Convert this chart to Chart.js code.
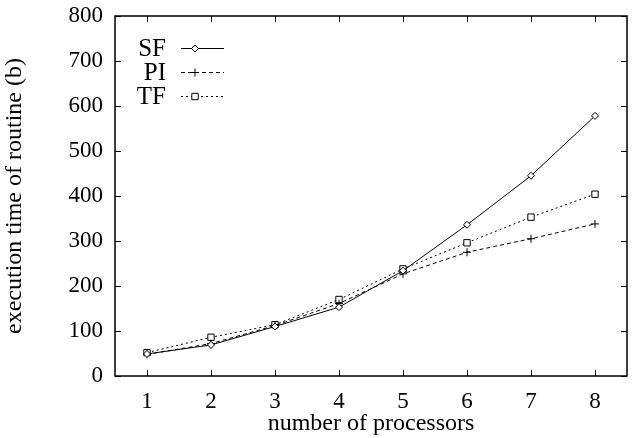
<!DOCTYPE html>
<html>
<head>
<meta charset="utf-8">
<script src="https://cdn.jsdelivr.net/npm/chart.js@4/dist/chart.umd.min.js"></script>
<style>
  html, body { margin: 0; padding: 0; background: #fff; }
  #wrap { width: 639px; height: 438px; }
</style>
</head>
<body>
<div id="wrap"><canvas id="chart" width="639" height="438"></canvas></div>
<script>
// data
const processors = [1, 2, 3, 4, 5, 6, 7, 8];
const sfTimes = [49, 69, 110, 153, 234, 336, 445, 578];
const piTimes = [48, 72, 112, 161, 227, 275, 305, 338];
const tfTimes = [52, 86, 114, 170, 238, 296, 353, 404];
const yTicks = [0, 100, 200, 300, 400, 500, 600, 700, 800];

const serif = "'Liberation Serif', 'DejaVu Serif', serif";

function toPoints(values) {
    return processors.map((p, i) => ({ x: p, y: values[i] }));
}

// gnuplot-like frame with inward, mirrored ticks
const framePlugin = {
    id: 'frame',
    afterDatasetsDraw(chart) {
        const { ctx, chartArea: a, scales } = chart;
        ctx.save();
        ctx.strokeStyle = '#000';
        ctx.lineWidth = 1;
        ctx.beginPath();
        scales.x.ticks.forEach(t => {
            const px = Math.round(scales.x.getPixelForValue(t.value)) + 0.5;
            ctx.moveTo(px, a.bottom); ctx.lineTo(px, a.bottom - 6);
            ctx.moveTo(px, a.top); ctx.lineTo(px, a.top + 6);
        });
        scales.y.ticks.forEach(t => {
            const py = Math.round(scales.y.getPixelForValue(t.value)) + 0.5;
            ctx.moveTo(a.left, py); ctx.lineTo(a.left + 6, py);
            ctx.moveTo(a.right, py); ctx.lineTo(a.right - 6, py);
        });
        ctx.stroke();
        ctx.lineWidth = 1.5;
        ctx.strokeRect(a.left, a.top, a.right - a.left, a.bottom - a.top);
        ctx.restore();
    }
};

// key in the top-left corner: label on the left, sample on the right
const keyPlugin = {
    id: 'key',
    afterDatasetsDraw(chart) {
        const { ctx, chartArea: a } = chart;
        ctx.save();
        ctx.font = '25px ' + serif;
        ctx.textAlign = 'right';
        ctx.textBaseline = 'middle';
        chart.data.datasets.forEach((ds, i) => {
            const y = a.top + 32 + i * 24;
            ctx.fillStyle = '#000';
            ctx.fillText(ds.label, a.left + 51, y + 1);
            ctx.strokeStyle = '#000';
            ctx.lineWidth = 1;
            ctx.setLineDash(ds.borderDash || []);
            ctx.beginPath();
            ctx.moveTo(a.left + 66, y + 0.5);
            ctx.lineTo(a.left + 109, y + 0.5);
            ctx.stroke();
            ctx.setLineDash([]);
            ctx.fillStyle = '#fff';
            Chart.helpers.drawPoint(ctx, {
                pointStyle: ds.pointStyle,
                radius: ds.pointRadius,
                borderWidth: 1
            }, a.left + 80, y + 0.5);
        });
        ctx.restore();
    }
};

new Chart(document.getElementById('chart'), {
    type: 'line',
    data: {
        datasets: [
            {
                label: 'SF',
                data: toPoints(sfTimes),
                borderColor: '#000',
                borderWidth: 1,
                pointStyle: 'rectRot',
                pointRadius: 3.5,
                pointBorderColor: '#000',
                pointBackgroundColor: '#fff',
                pointBorderWidth: 1
            },
            {
                label: 'PI',
                data: toPoints(piTimes),
                borderColor: '#000',
                borderWidth: 1,
                borderDash: [4, 3],
                pointStyle: 'cross',
                pointRadius: 4,
                pointBorderColor: '#000',
                pointBorderWidth: 1
            },
            {
                label: 'TF',
                data: toPoints(tfTimes),
                borderColor: '#000',
                borderWidth: 1,
                borderDash: [2, 3],
                pointStyle: 'rect',
                pointRadius: 4.5,
                pointBorderColor: '#000',
                pointBackgroundColor: '#fff',
                pointBorderWidth: 1
            }
        ]
    },
    options: {
        responsive: false,
        animation: false,
        layout: { padding: { top: 16, right: 12, left: 0, bottom: 0 } },
        plugins: {
            legend: { display: false },
            tooltip: { enabled: false }
        },
        elements: { line: { tension: 0 } },
        scales: {
            x: {
                type: 'linear',
                min: 0.5,
                max: 8.5,
                afterBuildTicks(scale) {
                    scale.ticks = processors.map(v => ({ value: v }));
                },
                afterFit(scale) {
                    scale.height = 62;
                    scale.paddingLeft = 0;
                    scale.paddingRight = 0;
                },
                grid: { display: false, drawTicks: false },
                border: { display: false },
                ticks: {
                    color: '#000',
                    padding: 12,
                    font: { family: serif, size: 23 }
                },
                title: {
                    display: true,
                    text: 'number of processors',
                    color: '#000',
                    padding: { top: -4, bottom: 0 },
                    font: { family: serif, size: 24 }
                }
            },
            y: {
                min: 0,
                max: 800,
                afterBuildTicks(scale) {
                    scale.ticks = yTicks.map(v => ({ value: v }));
                },
                afterFit(scale) {
                    scale.width = 115;
                    scale.paddingTop = 0;
                    scale.paddingBottom = 0;
                },
                grid: { display: false, drawTicks: false },
                border: { display: false },
                ticks: {
                    color: '#000',
                    padding: 12,
                    font: { family: serif, size: 23 }
                },
                title: {
                    display: true,
                    text: 'execution time of routine (b)',
                    color: '#000',
                    padding: { top: 0, bottom: 4 },
                    font: { family: serif, size: 24 }
                }
            }
        }
    },
    plugins: [framePlugin, keyPlugin]
});
</script>
</body>
</html>
